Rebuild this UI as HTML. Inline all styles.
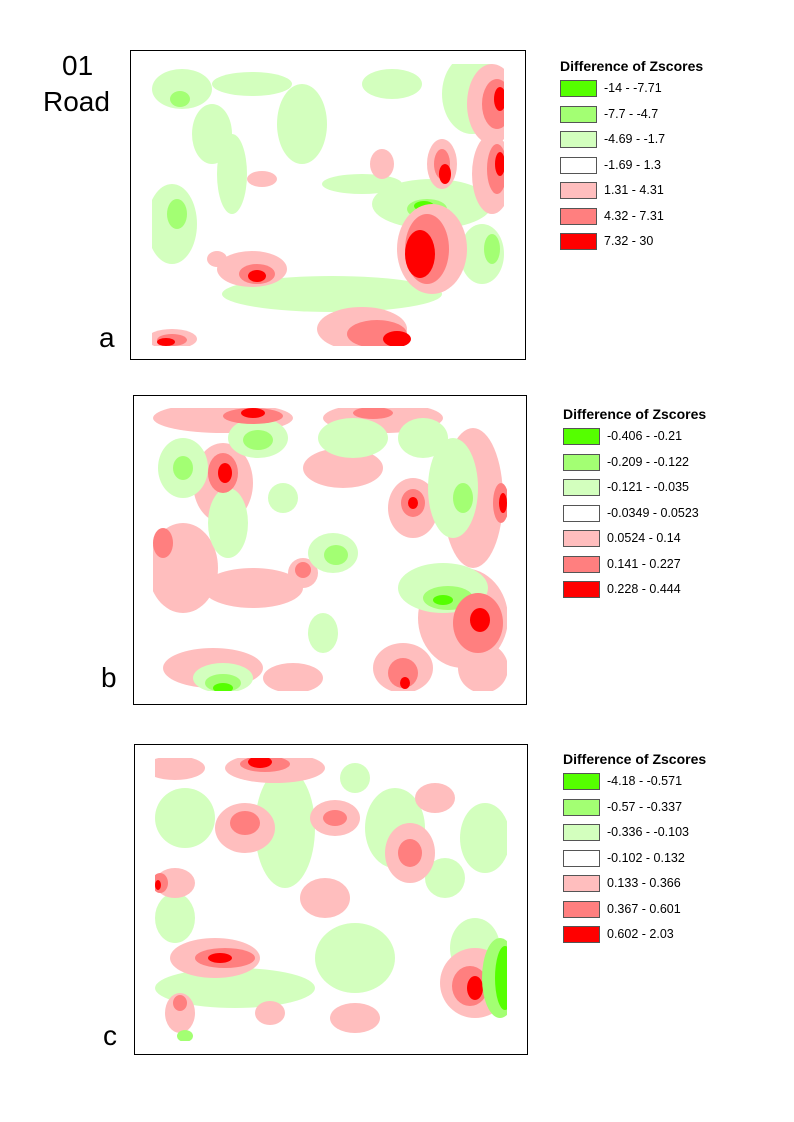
<!DOCTYPE html>
<html><head><meta charset="utf-8"><style>
body{margin:0;background:#fff;width:794px;height:1122px;position:relative;font-family:"Liberation Sans",Arial,sans-serif;overflow:hidden}
.frame{position:absolute;border:1px solid #000;box-sizing:border-box}
.lg{position:absolute}
.lg .t{font-weight:bold;font-size:14px;margin-bottom:6px;white-space:nowrap}
.row{height:25.5px;position:relative}
.sw{position:absolute;left:0;top:0;width:37px;height:17px;border:1px solid #555;box-sizing:border-box}
.lb{position:absolute;left:44px;top:1px;font-size:12.5px;white-space:nowrap}
.big{position:absolute;font-size:28px}
svg{position:absolute}
</style></head><body>
<div class="big" style="left:62px;top:50px">01</div>
<div class="big" style="left:43px;top:86px">Road</div>
<div class="big" style="left:99px;top:322px">a</div>
<div class="big" style="left:101px;top:662px">b</div>
<div class="big" style="left:103px;top:1020px">c</div>

<div class="frame" style="left:130px;top:50px;width:396px;height:310px"></div>
<div class="frame" style="left:133px;top:395px;width:394px;height:310px"></div>
<div class="frame" style="left:134px;top:744px;width:394px;height:311px"></div>

<!-- map a -->
<svg style="left:152px;top:64px" width="352" height="282" viewBox="0 0 352 282">
<g fill="#d3ffbe">
<ellipse cx="30" cy="25" rx="30" ry="20"/><ellipse cx="150" cy="60" rx="25" ry="40"/><ellipse cx="80" cy="110" rx="15" ry="40"/>
<ellipse cx="20" cy="160" rx="25" ry="40"/><ellipse cx="180" cy="230" rx="110" ry="18"/><ellipse cx="280" cy="140" rx="60" ry="25"/>
<ellipse cx="320" cy="30" rx="30" ry="40"/><ellipse cx="240" cy="20" rx="30" ry="15"/><ellipse cx="330" cy="190" rx="22" ry="30"/>
<ellipse cx="100" cy="20" rx="40" ry="12"/><ellipse cx="210" cy="120" rx="40" ry="10"/><ellipse cx="60" cy="70" rx="20" ry="30"/>
</g>
<g fill="#a3ff73"><ellipse cx="25" cy="150" rx="10" ry="15"/><ellipse cx="275" cy="145" rx="20" ry="10"/><ellipse cx="340" cy="185" rx="8" ry="15"/><ellipse cx="28" cy="35" rx="10" ry="8"/></g>
<ellipse cx="272" cy="142" rx="10" ry="5" fill="#55ff00"/>
<g fill="#ffbebe">
<ellipse cx="340" cy="40" rx="25" ry="40"/><ellipse cx="340" cy="110" rx="20" ry="40"/><ellipse cx="290" cy="100" rx="15" ry="25"/>
<ellipse cx="280" cy="185" rx="35" ry="45"/><ellipse cx="100" cy="205" rx="35" ry="18"/><ellipse cx="210" cy="265" rx="45" ry="22"/>
<ellipse cx="20" cy="275" rx="25" ry="10"/><ellipse cx="110" cy="115" rx="15" ry="8"/><ellipse cx="230" cy="100" rx="12" ry="15"/><ellipse cx="65" cy="195" rx="10" ry="8"/>
</g>
<g fill="#ff7f7f"><ellipse cx="345" cy="40" rx="15" ry="25"/><ellipse cx="345" cy="105" rx="10" ry="25"/><ellipse cx="290" cy="100" rx="8" ry="15"/><ellipse cx="275" cy="185" rx="22" ry="35"/><ellipse cx="105" cy="210" rx="18" ry="10"/><ellipse cx="225" cy="270" rx="30" ry="14"/><ellipse cx="20" cy="276" rx="15" ry="6"/></g>
<g fill="#ff0000"><ellipse cx="348" cy="35" rx="6" ry="12"/><ellipse cx="348" cy="100" rx="5" ry="12"/><ellipse cx="293" cy="110" rx="6" ry="10"/><ellipse cx="268" cy="190" rx="15" ry="24"/><ellipse cx="105" cy="212" rx="9" ry="6"/><ellipse cx="245" cy="275" rx="14" ry="8"/><ellipse cx="14" cy="278" rx="9" ry="4"/></g>
</svg>

<!-- map b -->
<svg style="left:153px;top:408px" width="354" height="283" viewBox="0 0 354 283">
<g fill="#ffbebe">
<ellipse cx="70" cy="10" rx="70" ry="15"/><ellipse cx="230" cy="10" rx="60" ry="15"/><ellipse cx="70" cy="75" rx="30" ry="40"/>
<ellipse cx="30" cy="160" rx="35" ry="45"/><ellipse cx="100" cy="180" rx="50" ry="20"/><ellipse cx="260" cy="100" rx="25" ry="30"/>
<ellipse cx="320" cy="90" rx="30" ry="70"/><ellipse cx="310" cy="210" rx="45" ry="50"/><ellipse cx="250" cy="260" rx="30" ry="25"/>
<ellipse cx="150" cy="165" rx="15" ry="15"/><ellipse cx="190" cy="60" rx="40" ry="20"/><ellipse cx="60" cy="260" rx="50" ry="20"/><ellipse cx="330" cy="260" rx="25" ry="25"/>
<ellipse cx="140" cy="270" rx="30" ry="15"/>
</g>
<g fill="#d3ffbe">
<ellipse cx="105" cy="30" rx="30" ry="20"/><ellipse cx="200" cy="30" rx="35" ry="20"/><ellipse cx="30" cy="60" rx="25" ry="30"/>
<ellipse cx="75" cy="115" rx="20" ry="35"/><ellipse cx="180" cy="145" rx="25" ry="20"/><ellipse cx="300" cy="80" rx="25" ry="50"/>
<ellipse cx="290" cy="180" rx="45" ry="25"/><ellipse cx="70" cy="270" rx="30" ry="15"/><ellipse cx="130" cy="90" rx="15" ry="15"/><ellipse cx="170" cy="225" rx="15" ry="20"/><ellipse cx="270" cy="30" rx="25" ry="20"/>
</g>
<g fill="#a3ff73"><ellipse cx="105" cy="32" rx="15" ry="10"/><ellipse cx="30" cy="60" rx="10" ry="12"/><ellipse cx="183" cy="147" rx="12" ry="10"/><ellipse cx="295" cy="190" rx="25" ry="12"/><ellipse cx="70" cy="275" rx="18" ry="9"/><ellipse cx="310" cy="90" rx="10" ry="15"/></g>
<g fill="#55ff00"><ellipse cx="290" cy="192" rx="10" ry="5"/><ellipse cx="70" cy="280" rx="10" ry="5"/></g>
<g fill="#ff7f7f"><ellipse cx="70" cy="65" rx="15" ry="20"/><ellipse cx="260" cy="95" rx="12" ry="14"/><ellipse cx="325" cy="215" rx="25" ry="30"/><ellipse cx="250" cy="265" rx="15" ry="15"/><ellipse cx="100" cy="8" rx="30" ry="8"/><ellipse cx="220" cy="5" rx="20" ry="6"/><ellipse cx="150" cy="162" rx="8" ry="8"/><ellipse cx="348" cy="95" rx="8" ry="20"/><ellipse cx="10" cy="135" rx="10" ry="15"/></g>
<g fill="#ff0000"><ellipse cx="72" cy="65" rx="7" ry="10"/><ellipse cx="260" cy="95" rx="5" ry="6"/><ellipse cx="327" cy="212" rx="10" ry="12"/><ellipse cx="100" cy="5" rx="12" ry="5"/><ellipse cx="252" cy="275" rx="5" ry="6"/><ellipse cx="350" cy="95" rx="4" ry="10"/></g>
</svg>

<!-- map c -->
<svg style="left:155px;top:758px" width="352" height="283" viewBox="0 0 352 283">
<g fill="#d3ffbe">
<ellipse cx="30" cy="60" rx="30" ry="30"/><ellipse cx="130" cy="70" rx="30" ry="60"/><ellipse cx="240" cy="70" rx="30" ry="40"/>
<ellipse cx="330" cy="80" rx="25" ry="35"/><ellipse cx="80" cy="230" rx="80" ry="20"/><ellipse cx="200" cy="200" rx="40" ry="35"/>
<ellipse cx="20" cy="160" rx="20" ry="25"/><ellipse cx="290" cy="120" rx="20" ry="20"/><ellipse cx="320" cy="190" rx="25" ry="30"/><ellipse cx="200" cy="20" rx="15" ry="15"/>
</g>
<g fill="#ffbebe">
<ellipse cx="20" cy="10" rx="30" ry="12"/><ellipse cx="120" cy="10" rx="50" ry="15"/><ellipse cx="90" cy="70" rx="30" ry="25"/>
<ellipse cx="180" cy="60" rx="25" ry="18"/><ellipse cx="255" cy="95" rx="25" ry="30"/><ellipse cx="280" cy="40" rx="20" ry="15"/>
<ellipse cx="60" cy="200" rx="45" ry="20"/><ellipse cx="170" cy="140" rx="25" ry="20"/><ellipse cx="320" cy="225" rx="35" ry="35"/>
<ellipse cx="20" cy="125" rx="20" ry="15"/><ellipse cx="25" cy="255" rx="15" ry="20"/><ellipse cx="200" cy="260" rx="25" ry="15"/><ellipse cx="115" cy="255" rx="15" ry="12"/>
</g>
<g fill="#ff7f7f"><ellipse cx="110" cy="6" rx="25" ry="8"/><ellipse cx="90" cy="65" rx="15" ry="12"/><ellipse cx="180" cy="60" rx="12" ry="8"/><ellipse cx="255" cy="95" rx="12" ry="14"/><ellipse cx="70" cy="200" rx="30" ry="10"/><ellipse cx="315" cy="228" rx="18" ry="20"/><ellipse cx="5" cy="125" rx="8" ry="10"/><ellipse cx="25" cy="245" rx="7" ry="8"/></g>
<g fill="#ff0000"><ellipse cx="105" cy="4" rx="12" ry="6"/><ellipse cx="65" cy="200" rx="12" ry="5"/><ellipse cx="320" cy="230" rx="8" ry="12"/><ellipse cx="3" cy="127" rx="3" ry="5"/></g>
<ellipse cx="345" cy="220" rx="18" ry="40" fill="#a3ff73"/><ellipse cx="350" cy="220" rx="10" ry="32" fill="#55ff00"/>
<ellipse cx="30" cy="278" rx="8" ry="6" fill="#a3ff73"/>
</svg>

<div class="lg" style="left:560px;top:58px">
<div class="t">Difference of Zscores</div>
<div class="row"><div class="sw" style="background:#55ff00"></div><div class="lb">-14 - -7.71</div></div>
<div class="row"><div class="sw" style="background:#a3ff73"></div><div class="lb">-7.7 - -4.7</div></div>
<div class="row"><div class="sw" style="background:#d3ffbe"></div><div class="lb">-4.69 - -1.7</div></div>
<div class="row"><div class="sw" style="background:#fff"></div><div class="lb">-1.69 - 1.3</div></div>
<div class="row"><div class="sw" style="background:#ffbebe"></div><div class="lb">1.31 - 4.31</div></div>
<div class="row"><div class="sw" style="background:#ff7f7f"></div><div class="lb">4.32 - 7.31</div></div>
<div class="row"><div class="sw" style="background:#ff0000"></div><div class="lb">7.32 - 30</div></div>
</div>
<div class="lg" style="left:563px;top:406px">
<div class="t">Difference of Zscores</div>
<div class="row"><div class="sw" style="background:#55ff00"></div><div class="lb">-0.406 - -0.21</div></div>
<div class="row"><div class="sw" style="background:#a3ff73"></div><div class="lb">-0.209 - -0.122</div></div>
<div class="row"><div class="sw" style="background:#d3ffbe"></div><div class="lb">-0.121 - -0.035</div></div>
<div class="row"><div class="sw" style="background:#fff"></div><div class="lb">-0.0349 - 0.0523</div></div>
<div class="row"><div class="sw" style="background:#ffbebe"></div><div class="lb">0.0524 - 0.14</div></div>
<div class="row"><div class="sw" style="background:#ff7f7f"></div><div class="lb">0.141 - 0.227</div></div>
<div class="row"><div class="sw" style="background:#ff0000"></div><div class="lb">0.228 - 0.444</div></div>
</div>
<div class="lg" style="left:563px;top:751px">
<div class="t">Difference of Zscores</div>
<div class="row"><div class="sw" style="background:#55ff00"></div><div class="lb">-4.18 - -0.571</div></div>
<div class="row"><div class="sw" style="background:#a3ff73"></div><div class="lb">-0.57 - -0.337</div></div>
<div class="row"><div class="sw" style="background:#d3ffbe"></div><div class="lb">-0.336 - -0.103</div></div>
<div class="row"><div class="sw" style="background:#fff"></div><div class="lb">-0.102 - 0.132</div></div>
<div class="row"><div class="sw" style="background:#ffbebe"></div><div class="lb">0.133 - 0.366</div></div>
<div class="row"><div class="sw" style="background:#ff7f7f"></div><div class="lb">0.367 - 0.601</div></div>
<div class="row"><div class="sw" style="background:#ff0000"></div><div class="lb">0.602 - 2.03</div></div>
</div>
</body></html>
